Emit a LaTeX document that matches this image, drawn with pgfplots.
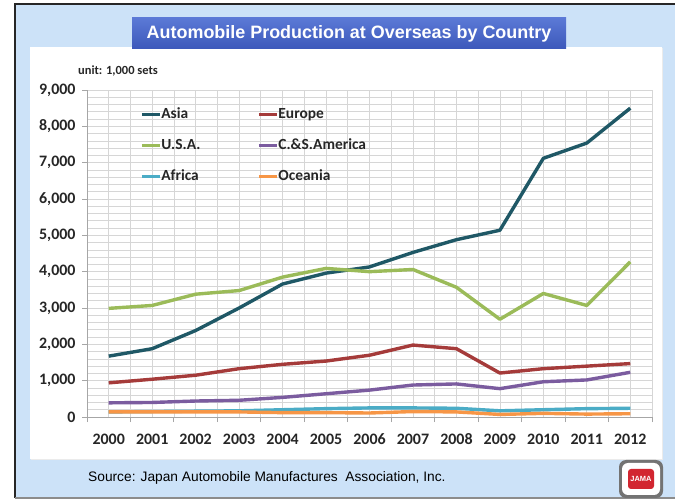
\documentclass[border=0pt]{standalone}
\usepackage{fontspec}
\setmainfont{Carlito}[Numbers=Lining]
\newfontfamily\arialfont{Liberation Sans}
\usepackage{pgfplots}
\usepackage{pgfplotstable}
\pgfplotsset{compat=1.18}

\definecolor{bgblue}{HTML}{CCE2F8}
\definecolor{titletop}{HTML}{5B79D6}
\definecolor{titlebot}{HTML}{3C58BA}
\definecolor{gridgray}{HTML}{D6D6D6}
\definecolor{axisgray}{HTML}{A6A6A6}
\definecolor{asiac}{HTML}{1F5866}
\definecolor{europec}{HTML}{A53B3A}
\definecolor{usac}{HTML}{9BBB59}
\definecolor{csac}{HTML}{7B5C9F}
\definecolor{africac}{HTML}{4BACC6}
\definecolor{oceaniac}{HTML}{F79646}
\definecolor{jamared}{HTML}{D22630}

% production, 1,000 sets
\pgfplotstableread{
year asia europe usa  csa  africa oceania
2000 1675  940  2990  390  140  140
2001 1880 1040  3070  400  150  140
2002 2380 1150  3380  440  160  140
2003 3000 1330  3480  460  170  140
2004 3660 1450  3850  540  200  120
2005 3960 1540  4090  640  230  120
2006 4130 1700  4000  740  250  110
2007 4530 1980  4060  880  250  150
2008 4880 1880  3570  910  240  140
2009 5140 1210  2690  780  170   70
2010 7120 1330  3400  970  200  100
2011 7540 1400  3070 1020  230   80
2012 8500 1470  4270 1230  240   90
}\prodtable

\begin{document}
\begin{tikzpicture}
\useasboundingbox (0,0) rectangle (675bp,500bp);
\fill[white] (0,0) rectangle (675bp,500bp);
% frame
\fill[bgblue] (15bp,2bp) rectangle (676bp,496bp);
\draw[line width=2bp, black!85] (15bp,2bp) -- (15bp,496bp) -- (676bp,496bp);
\draw[line width=1.5bp, black!45] (15bp,2bp) -- (676bp,2bp);
% white panel
\fill[black!8] (31bp,40bp) rectangle (663bp,452bp);
\fill[white] (30bp,41bp) rectangle (662bp,453bp);
% title box
\shade[top color=titletop, bottom color=titlebot] (132bp,451bp) rectangle (566bp,482bp);
\node[text=white, font=\arialfont\bfseries\fontsize{18}{20}\selectfont] at (349bp,466.5bp)
  {Automobile Production at Overseas by Country};
% unit note
\node[anchor=west, inner sep=0pt, text=black!85, font=\bfseries\fontsize{12.5}{14}\selectfont] at (78bp,429bp)
  {unit: 1,000 sets};

\begin{axis}[
    at={(87bp,83bp)}, anchor=south west,
    scale only axis, width=565bp, height=327bp,
    xmin=1999.5, xmax=2012.5,
    ymin=0, ymax=9000,
    xtick={2000,2001,...,2012},
    minor xtick={1999.5,2000.5,...,2012.5},
    ytick={0,1000,...,9000},
    minor y tick num=4,
    grid=both,
    major grid style={gridgray, line width=0.7bp},
    minor grid style={gridgray, line width=0.7bp},
    axis lines*=left,
    axis line style={axisgray, line width=0.9bp},
    tick align=outside,
    major tick length=5bp,
    minor tick length=5bp,
    major x tick style={draw=none},
    minor y tick style={draw=none},
    tick style={axisgray, line width=0.9bp},
    /pgf/number format/assume math mode=true,
    ticklabel style={font=\bfseries\fontsize{16}{18}\selectfont, text=black!85},
    yticklabel style={/pgf/number format/.cd, 1000 sep={,}, /tikz/.cd, xshift=-3bp},
    xticklabel style={/pgf/number format/.cd, 1000 sep={}, /tikz/.cd,
        anchor=north, text height=11bp, text depth=0pt, yshift=-8bp},
    legend columns=2,
    legend cell align=left,
    legend style={draw=none, fill=none, inner sep=0pt,
        at={(axis description cs:0.094,0.948)}, anchor=north west,
        font=\bfseries\fontsize{15.5}{17}\selectfont, text=black!85,
        row sep=17bp,
        nodes={inner xsep=0pt, inner ysep=0pt, text height=11bp, text depth=3bp},
        /tikz/every even column/.append style={column sep=57bp}},
    legend image code/.code={\draw[#1, line width=3bp] (0bp,0bp) -- (18bp,0bp);},
    every axis plot/.append style={line width=3.4bp, line join=round},
]
\addplot[asiac] table[x=year, y=asia] {\prodtable};
\addlegendentry{Asia}
\addplot[europec] table[x=year, y=europe] {\prodtable};
\addlegendentry{Europe}
\addplot[usac] table[x=year, y=usa] {\prodtable};
\addlegendentry{U.S.A.}
\addplot[csac] table[x=year, y=csa] {\prodtable};
\addlegendentry{C.\&S.America}
\addplot[africac] table[x=year, y=africa] {\prodtable};
\addlegendentry{Africa}
\addplot[oceaniac] table[x=year, y=oceania] {\prodtable};
\addlegendentry{Oceania}
\end{axis}

% source
\node[anchor=west, inner sep=0pt, font=\arialfont\fontsize{13.8}{16}\selectfont] at (88bp,22bp)
  {Source: Japan Automobile Manufactures\ \ Association, Inc.};
% logo
\fill[black!55, rounded corners=7bp] (619bp,2bp) rectangle (663bp,40bp);
\fill[white, rounded corners=6bp] (622bp,5bp) rectangle (660bp,37bp);
\fill[jamared, rounded corners=3bp] (628bp,11bp) rectangle (654bp,31bp);
\node[text=white, font=\arialfont\bfseries\fontsize{7.5}{8}\selectfont, inner sep=0pt] at (641bp,21bp) {JAMA};
\end{tikzpicture}
\end{document}
